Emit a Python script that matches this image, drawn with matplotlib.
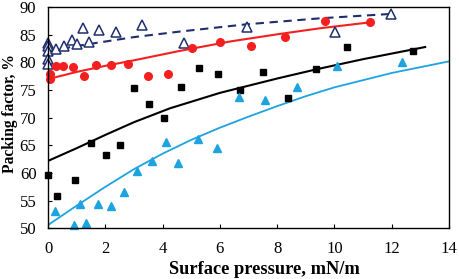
import numpy as np
import matplotlib
matplotlib.use("Agg")
import matplotlib.pyplot as plt

# scatter data
tri_x = [0, 0, 0, 0, 0, 0.26, 0.55, 0.82, 1.02, 1.22, 1.43, 1.78, 2.36, 3.29, 4.75, 6.93, 10.02, 11.98]
tri_y = [83.5, 83.0, 82.0, 80.7, 79.7, 82.4, 83.0, 84.1, 83.3, 86.2, 83.8, 85.9, 85.6, 86.8, 83.6, 86.5, 85.6, 88.8]

red_x = [0.05, 0.05, 0.26, 0.52, 0.85, 1.24, 1.68, 2.21, 2.79, 3.47, 4.19, 5.04, 6.0, 7.07, 8.27, 9.67, 11.24]
red_y = [78.0, 77.0, 79.4, 79.4, 79.1, 77.5, 79.5, 79.5, 79.7, 77.6, 77.9, 82.6, 83.7, 83.0, 84.7, 87.5, 87.4]

sq_x = [0, 0.31, 0.92, 1.49, 2.01, 2.5, 3.0, 3.52, 4.05, 4.63, 5.26, 5.94, 6.7, 7.51, 8.38, 9.36, 10.43, 12.73]
sq_y = [59.6, 55.9, 58.8, 65.4, 63.3, 65.0, 75.3, 72.4, 70.0, 75.5, 79.0, 77.9, 75.0, 78.2, 73.6, 78.9, 82.8, 82.0]

blu_x = [0.23, 0.9, 1.1, 1.31, 1.75, 2.2, 2.66, 3.12, 3.62, 4.1, 4.53, 5.23, 5.9, 6.67, 7.59, 8.7, 10.08, 12.37]
blu_y = [53.1, 50.5, 54.4, 51.0, 54.3, 54.1, 56.5, 60.3, 62.2, 65.6, 61.8, 66.1, 64.5, 73.8, 73.3, 75.6, 79.4, 80.1]

# trend lines
navy_fx = [0, 0.5, 1, 2, 3, 4.6, 6.9, 9.5, 12.0]
navy_fy = [82.0, 82.5, 83.0, 83.8, 84.6, 85.6, 86.9, 88.0, 88.8]
red_fx = [0, 1, 2, 3, 4.6, 6.35, 8.0, 9.5, 11.3]
red_fy = [77.0, 78.3, 79.4, 80.4, 82.1, 83.8, 85.1, 86.2, 87.3]
blk_fx = [0, 1, 2, 3, 4.25, 6.0, 8.0, 9.4, 11.0, 13.17]
blk_fy = [62.2, 64.5, 66.9, 69.2, 71.7, 74.5, 77.1, 78.8, 80.6, 82.8]
cyan_fx = [0, 1, 2, 3, 4, 5, 6, 7, 8, 9, 10, 12, 14]
cyan_fy = [50.6, 54.1, 57.5, 60.7, 63.5, 66.0, 68.2, 70.2, 72.1, 73.9, 75.5, 78.1, 80.2]

plt.rcParams['font.family'] = ['Liberation Serif']

navy = '#1F2E6E'
red = '#F42020'
cyan = '#1CA3E0'

fig = plt.figure(figsize=(4.59, 2.79), dpi=100)
ax = fig.add_axes([0.105, 0.182, 0.873, 0.792])

ax.plot(navy_fx, navy_fy, color=navy, lw=1.5, ls=(0, (4, 2.7)))
ax.plot(red_fx, red_fy, color=red, lw=1.5)
ax.plot(blk_fx, blk_fy, color='black', lw=1.5)
ax.plot(cyan_fx, cyan_fy, color=cyan, lw=1.3)

ax.plot(tri_x, tri_y, ls='none', marker='^', ms=6.5, mfc='white', mec=navy, mew=1.1, clip_on=False)
ax.plot(red_x, red_y, ls='none', marker='o', ms=5.5, color=red, clip_on=False)
ax.plot(sq_x, sq_y, ls='none', marker='s', ms=5, color='black', clip_on=False)
ax.plot(blu_x, blu_y, ls='none', marker='^', ms=5.5, color=cyan, clip_on=False)

ax.set_xlim(0, 14)
ax.set_ylim(50, 90)
ax.set_xticks(np.arange(0, 15, 2))
ax.set_yticks(np.arange(50, 91, 5))
ax.tick_params(direction='in', length=3, labelsize=12)
ax.tick_params(axis='x', pad=9)
ax.tick_params(axis='y', pad=8.5)
for s in ax.spines.values():
    s.set_linewidth(1.0)

ax.set_xlabel('Surface pressure, mN/m', fontsize=13.2, fontweight='bold')
ax.set_ylabel('Packing factor, %', fontsize=11.2, fontweight='bold')
ax.xaxis.set_label_coords(0.54, -0.15)
ax.yaxis.set_label_coords(-0.076, 0.517)

fig.savefig('out.png', dpi=100)
